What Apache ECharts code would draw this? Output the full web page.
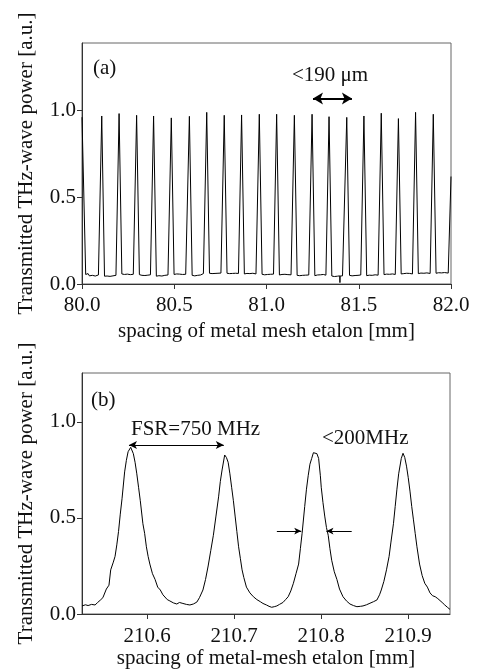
<!DOCTYPE html>
<html>
<head>
<meta charset="utf-8">
<script src="https://cdn.jsdelivr.net/npm/echarts@6/dist/echarts.min.js"></script>
<style>
  html, body { margin: 0; padding: 0; background: #fff; }
  #chart { width: 479px; height: 670px; }
</style>
</head>
<body>
<div id="chart"></div>
<script>
// (a) scan over 80-82 mm
var topPos = [
  80.000, 80.005, 80.020,
  80.026, 80.033, 80.040, 80.048, 80.056, 80.064, 80.072, 80.080, 80.089,
  80.091, 80.107, 80.122,
  80.128, 80.136, 80.144, 80.152, 80.160, 80.168, 80.176, 80.184,
  80.185, 80.201, 80.216,
  80.222, 80.230, 80.238, 80.246, 80.254, 80.262, 80.270, 80.278,
  80.280, 80.296, 80.311,
  80.317, 80.325, 80.333, 80.341, 80.349, 80.357, 80.365, 80.371,
  80.372, 80.388, 80.403,
  80.409, 80.417, 80.425, 80.433, 80.441, 80.449, 80.457, 80.466,
  80.468, 80.484, 80.499,
  80.505, 80.513, 80.521, 80.529, 80.537, 80.545, 80.553, 80.562,
  80.566, 80.582, 80.597,
  80.603, 80.611, 80.619, 80.627, 80.635, 80.643, 80.651, 80.658,
  80.660, 80.676, 80.691,
  80.697, 80.705, 80.713, 80.721, 80.729, 80.737, 80.745, 80.753,
  80.755, 80.771, 80.786,
  80.792, 80.800, 80.808, 80.816, 80.824, 80.832, 80.840, 80.848,
  80.849, 80.865, 80.880,
  80.886, 80.894, 80.902, 80.910, 80.918, 80.926, 80.934, 80.943,
  80.945, 80.961, 80.976,
  80.982, 80.990, 80.998, 81.006, 81.014, 81.022, 81.030, 81.038,
  81.039, 81.055, 81.070,
  81.076, 81.084, 81.092, 81.100, 81.108, 81.116, 81.124, 81.133,
  81.135, 81.151, 81.166,
  81.172, 81.180, 81.188, 81.196, 81.204, 81.212, 81.220, 81.229,
  81.231, 81.247, 81.262,
  81.268, 81.276, 81.284, 81.292, 81.300, 81.308, 81.316, 81.322,
  81.323, 81.339, 81.354,
  81.360, 81.368, 81.376, 81.384, 81.392, 81.397, 81.398, 81.399, 81.406, 81.412, 81.418,
  81.419, 81.435, 81.450,
  81.456, 81.464, 81.472, 81.480, 81.488, 81.496, 81.504, 81.511,
  81.512, 81.528, 81.543,
  81.549, 81.557, 81.565, 81.573, 81.581, 81.589, 81.597, 81.605,
  81.606, 81.622, 81.637,
  81.643, 81.651, 81.659, 81.667, 81.675, 81.683, 81.691, 81.698,
  81.699, 81.715, 81.730,
  81.736, 81.744, 81.752, 81.760, 81.768, 81.776, 81.784, 81.791,
  81.792, 81.808, 81.823,
  81.829, 81.837, 81.845, 81.853, 81.861, 81.869, 81.877, 81.887,
  81.888, 81.904, 81.919,
  81.925, 81.933, 81.941, 81.949, 81.957, 81.965, 81.973, 81.985,
  81.992, 82.000
];
var topVal = [
  0.962, 0.965, 0.055,
  0.048, 0.060, 0.047, 0.056, 0.050, 0.058, 0.046, 0.055, 0.052,
  0.052, 0.969, 0.045,
  0.040, 0.046, 0.038, 0.044, 0.041, 0.047, 0.043, 0.050,
  0.050, 0.983, 0.058,
  0.062, 0.055, 0.064, 0.057, 0.061, 0.054, 0.060, 0.056,
  0.056, 0.973, 0.054,
  0.058, 0.050, 0.056, 0.049, 0.055, 0.051, 0.057, 0.053,
  0.053, 0.969, 0.045,
  0.041, 0.048, 0.040, 0.046, 0.043, 0.050, 0.045, 0.052,
  0.050, 0.958, 0.055,
  0.050, 0.058, 0.052, 0.057, 0.049, 0.055, 0.051, 0.056,
  0.056, 0.967, 0.050,
  0.054, 0.047, 0.055, 0.050, 0.056, 0.052, 0.058, 0.060,
  0.060, 0.990, 0.062,
  0.065, 0.060, 0.066, 0.061, 0.067, 0.062, 0.064, 0.063,
  0.063, 0.973, 0.062,
  0.066, 0.060, 0.064, 0.061, 0.066, 0.062, 0.065, 0.061,
  0.061, 0.975, 0.058,
  0.055, 0.061, 0.054, 0.060, 0.056, 0.062, 0.057, 0.058,
  0.058, 0.979, 0.056,
  0.060, 0.053, 0.059, 0.055, 0.061, 0.056, 0.060, 0.057,
  0.057, 0.979, 0.052,
  0.048, 0.055, 0.050, 0.056, 0.049, 0.054, 0.051, 0.053,
  0.053, 0.973, 0.050,
  0.055, 0.048, 0.054, 0.050, 0.057, 0.051, 0.055, 0.052,
  0.052, 0.979, 0.048,
  0.044, 0.052, 0.046, 0.053, 0.047, 0.055, 0.049, 0.051,
  0.051, 0.965, 0.046,
  0.050, 0.043, 0.049, 0.045, 0.051, 0.047, 0.008, 0.046, 0.052, 0.047, 0.050,
  0.050, 0.961, 0.050,
  0.054, 0.047, 0.053, 0.049, 0.055, 0.050, 0.054, 0.052,
  0.052, 0.969, 0.048,
  0.044, 0.051, 0.045, 0.050, 0.046, 0.053, 0.048, 0.051,
  0.051, 0.985, 0.054,
  0.050, 0.057, 0.051, 0.056, 0.052, 0.058, 0.053, 0.055,
  0.055, 0.954, 0.058,
  0.054, 0.060, 0.055, 0.062, 0.056, 0.061, 0.057, 0.058,
  0.058, 0.990, 0.060,
  0.056, 0.063, 0.057, 0.062, 0.058, 0.064, 0.059, 0.061,
  0.061, 0.979, 0.062,
  0.058, 0.065, 0.059, 0.064, 0.060, 0.066, 0.061, 0.063,
  0.063, 0.620
];

// (b) fine scan around 210.5-210.95 mm
var botPos = [
  210.525, 210.529, 210.532, 210.536, 210.540, 210.543, 210.546, 210.549, 210.551, 210.553,
  210.556, 210.558, 210.561, 210.563, 210.565, 210.567, 210.569, 210.571, 210.574, 210.576,
  210.578, 210.581, 210.584, 210.586, 210.588, 210.590, 210.592, 210.595, 210.597, 210.599,
  210.601, 210.603, 210.606, 210.609, 210.612, 210.615, 210.618, 210.620, 210.623, 210.626,
  210.630, 210.634, 210.637, 210.641, 210.645, 210.649, 210.653, 210.657, 210.660, 210.664,
  210.667, 210.670, 210.673, 210.676, 210.679, 210.682, 210.684, 210.686, 210.689, 210.691,
  210.693, 210.695, 210.697, 210.699, 210.701, 210.703, 210.705, 210.707, 210.709, 210.711,
  210.714, 210.718, 210.722, 210.726, 210.730, 210.733, 210.737, 210.740, 210.743, 210.746,
  210.749, 210.752, 210.756, 210.759, 210.762, 210.765, 210.768, 210.771, 210.774, 210.776,
  210.778, 210.781, 210.783, 210.785, 210.787, 210.789, 210.791, 210.793, 210.795, 210.797,
  210.799, 210.800, 210.802, 210.804, 210.806, 210.808, 210.810, 210.812, 210.815, 210.818,
  210.821, 210.825, 210.829, 210.833, 210.837, 210.841, 210.845, 210.848, 210.852, 210.856,
  210.860, 210.864, 210.867, 210.869, 210.872, 210.875, 210.878, 210.880, 210.883, 210.885,
  210.887, 210.889, 210.892, 210.894, 210.896, 210.898, 210.900, 210.902, 210.904, 210.906,
  210.908, 210.910, 210.913, 210.916, 210.919, 210.922, 210.925, 210.928, 210.931, 210.934,
  210.936, 210.939, 210.942, 210.945, 210.948
];
var botVal = [
  0.042, 0.048, 0.044, 0.050, 0.047, 0.060, 0.072, 0.085, 0.095, 0.130,
  0.150, 0.230, 0.270, 0.300, 0.360, 0.430, 0.520, 0.600, 0.740, 0.800,
  0.845, 0.868, 0.835, 0.790, 0.730, 0.660, 0.590, 0.470, 0.420, 0.350,
  0.300, 0.260, 0.210, 0.180, 0.140, 0.125, 0.100, 0.090, 0.075, 0.068,
  0.058, 0.052, 0.060, 0.055, 0.050, 0.047, 0.052, 0.062, 0.085, 0.125,
  0.180, 0.250, 0.330, 0.410, 0.510, 0.610, 0.690, 0.750, 0.828, 0.815,
  0.790, 0.730, 0.660, 0.590, 0.510, 0.430, 0.350, 0.290, 0.230, 0.190,
  0.140, 0.110, 0.090, 0.075, 0.064, 0.055, 0.047, 0.040, 0.035, 0.038,
  0.042, 0.050, 0.060, 0.075, 0.090, 0.120, 0.160, 0.210, 0.260, 0.340,
  0.420, 0.560, 0.650, 0.720, 0.780, 0.810, 0.840, 0.849, 0.835, 0.810,
  0.720, 0.660, 0.580, 0.510, 0.450, 0.410, 0.340, 0.280, 0.220, 0.180,
  0.130, 0.090, 0.068, 0.052, 0.044, 0.038, 0.040, 0.042, 0.048, 0.056,
  0.064, 0.073, 0.100, 0.125, 0.170, 0.230, 0.300, 0.370, 0.470, 0.560,
  0.650, 0.730, 0.810, 0.837, 0.815, 0.770, 0.710, 0.640, 0.560, 0.490,
  0.420, 0.350, 0.260, 0.200, 0.160, 0.140, 0.110, 0.095, 0.090, 0.080,
  0.070, 0.060, 0.047, 0.035, 0.024
];

var yTicks = [0, 0.5, 1.0];
var topXTicks = [80.0, 80.5, 81.0, 81.5, 82.0];
var botXTicks = [210.6, 210.7, 210.8, 210.9];

var FONT = '"Liberation Serif", "Times New Roman", serif';
var INK = '#111';
var FS = 21;

function pairs(xs, ys) {
  return xs.map(function (x, i) { return [x, ys[i]]; });
}

function xAxisOf(grid, min, max, ticks, name, margin, gap) {
  return {
    gridIndex: grid, type: 'value', min: min, max: max,
    axisLine: { show: true, onZero: false, lineStyle: { color: '#333', width: 1 } },
    axisTick: { show: true, length: 5, customValues: ticks, lineStyle: { color: '#333' } },
    axisLabel: {
      customValues: ticks, margin: margin, fontSize: FS, fontFamily: FONT, color: INK,
      formatter: function (v) { return v.toFixed(1); }
    },
    splitLine: { show: false },
    name: name, nameLocation: 'middle', nameGap: gap,
    nameTextStyle: { fontSize: FS, fontFamily: FONT, color: INK }
  };
}

function yAxisOf(grid, max) {
  return {
    gridIndex: grid, type: 'value', min: 0, max: max,
    axisLine: { show: true, onZero: false, lineStyle: { color: '#333', width: 1 } },
    axisTick: { show: true, length: 5, customValues: yTicks, lineStyle: { color: '#333' } },
    axisLabel: {
      customValues: yTicks, margin: 6, fontSize: FS, fontFamily: FONT, color: INK,
      formatter: function (v) { return v.toFixed(1); }
    },
    splitLine: { show: false },
    name: 'Transmitted THz-wave power [a.u.]', nameLocation: 'middle', nameGap: 45,
    nameTextStyle: { fontSize: FS, fontFamily: FONT, color: INK }
  };
}

function txt(x, y, s) {
  return { type: 'text', x: x, y: y, silent: true,
    style: { text: s, fontSize: FS, fontFamily: FONT, fill: INK, verticalAlign: 'middle' } };
}

var chart = echarts.init(document.getElementById('chart'));
chart.setOption({
  animation: false,
  backgroundColor: '#fff',
  grid: [
    { left: 82, top: 43, width: 369, height: 241, show: true, borderColor: '#666', borderWidth: 1 },
    { left: 82, top: 373, width: 368, height: 241, show: true, borderColor: '#666', borderWidth: 1 }
  ],
  xAxis: [
    xAxisOf(0, 80, 82, topXTicks, 'spacing of metal mesh etalon [mm]', 11, 37),
    xAxisOf(1, 210.525, 210.948, botXTicks, 'spacing of metal-mesh etalon [mm]', 12, 30)
  ],
  yAxis: [yAxisOf(0, 1.39), yAxisOf(1, 1.255)],
  series: [
    {
      type: 'line', xAxisIndex: 0, yAxisIndex: 0, data: pairs(topPos, topVal),
      showSymbol: false, lineStyle: { color: '#000', width: 1 },
      markLine: {
        silent: true, symbol: ['arrow', 'arrow'], symbolSize: [9, 10],
        label: { show: false },
        lineStyle: { color: '#000', width: 2, type: 'solid' },
        data: [[{ coord: [81.252, 1.07] }, { coord: [81.463, 1.07] }]]
      }
    },
    {
      type: 'line', xAxisIndex: 1, yAxisIndex: 1, data: pairs(botPos, botVal),
      showSymbol: false, lineStyle: { color: '#000', width: 1 },
      markLine: {
        silent: true, symbol: ['arrow', 'arrow'], symbolSize: [6, 8],
        label: { show: false },
        lineStyle: { color: '#000', width: 1, type: 'solid' },
        data: [
          [{ coord: [210.579, 0.88] }, { coord: [210.688, 0.88] }],
          [{ coord: [210.749, 0.432], symbol: 'none' }, { coord: [210.777, 0.432], symbol: 'arrow', symbolSize: [5, 7] }],
          [{ coord: [210.835, 0.432], symbol: 'none' }, { coord: [210.806, 0.432], symbol: 'arrow', symbolSize: [5, 7] }]
        ]
      }
    }
  ],
  graphic: [
    txt(93, 68, '(a)'),
    txt(292, 75, '<190 μm'),
    txt(91, 400, '(b)'),
    txt(131, 429, 'FSR=750 MHz'),
    txt(322, 438, '<200MHz')
  ]
});
</script>
</body>
</html>
